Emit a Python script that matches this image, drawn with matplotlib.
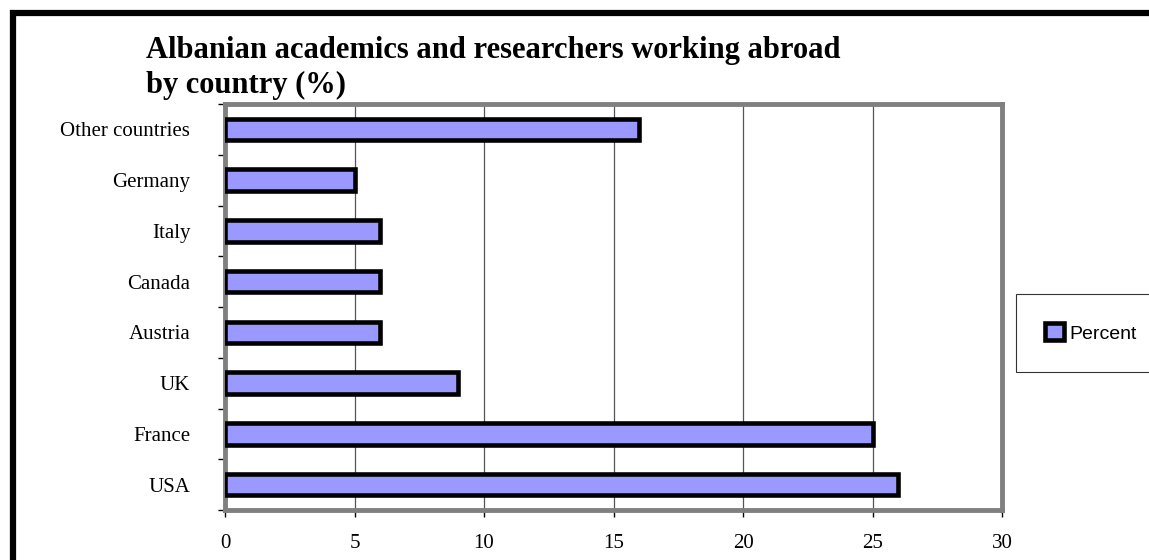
import matplotlib.pyplot as plt
from matplotlib.patches import Rectangle, Patch

plt.rcParams['font.family'] = ['Liberation Serif', 'DejaVu Serif']

countries = ['USA', 'France', 'UK', 'Austria', 'Canada', 'Italy', 'Germany', 'Other countries']
percent = [26, 25, 9, 6, 6, 6, 5, 16]
xticks = [0, 5, 10, 15, 20, 25, 30]
title_lines = ['Albanian academics and researchers working abroad', 'by country (%)']

W, H = 1149, 560
fig = plt.figure(figsize=(W / 100, H / 100), dpi=100)

# outer black frame (cut off at right / bottom like the source)
fig.patches.append(Rectangle((13 / W, -0.1), 1.2, (H - 13) / H + 0.1, transform=fig.transFigure,
                             fill=False, edgecolor='black', linewidth=4.5, zorder=0))

ax = fig.add_axes([225 / W, (H - 510) / H, (1002 - 225) / W, (510 - 104) / H])
pos = list(range(len(countries)))
ax.barh(pos, percent, height=0.42, color='#9999FF', edgecolor='black', linewidth=3.3, zorder=3)
ax.set_xlim(0, 30)
ax.set_ylim(-0.5, len(countries) - 0.5)
ax.set_xticks(xticks)
ax.set_yticks(pos)
ax.set_yticklabels(countries)
ax.set_yticks([p - 0.5 for p in pos] + [len(countries) - 0.5], minor=True)
ax.tick_params(axis='y', which='major', length=0, pad=25, labelsize=15)
ax.tick_params(axis='y', which='minor', length=5, width=1, direction='out', color='black')
ax.tick_params(axis='x', length=5, width=1, direction='out', pad=12, labelsize=15)
ax.grid(axis='x', color='#555555', linewidth=0.9, zorder=1)
for s in ax.spines.values():
    s.set_color('#808080')
    s.set_linewidth(3.5)

fig.text(146 / W, 1 - 58 / H, title_lines[0], fontsize=22, fontweight='bold', ha='left', va='baseline')
fig.text(146 / W, 1 - 93 / H, title_lines[1], fontsize=22, fontweight='bold', ha='left', va='baseline')

leg = fig.legend(handles=[Patch(facecolor='#9999FF', edgecolor='black', linewidth=3.3, label='Percent')],
                 loc='center left', bbox_to_anchor=(1016 / W, 1 - 333 / H),
                 prop={'family': 'Liberation Sans', 'size': 14}, frameon=True, fancybox=False,
                 borderpad=1.5, handlelength=0.95, handleheight=0.95, handletextpad=0.3,
                 borderaxespad=0)
leg.get_frame().set_edgecolor('black')
leg.get_frame().set_linewidth(0.8)

fig.savefig('out.png', dpi=100)
